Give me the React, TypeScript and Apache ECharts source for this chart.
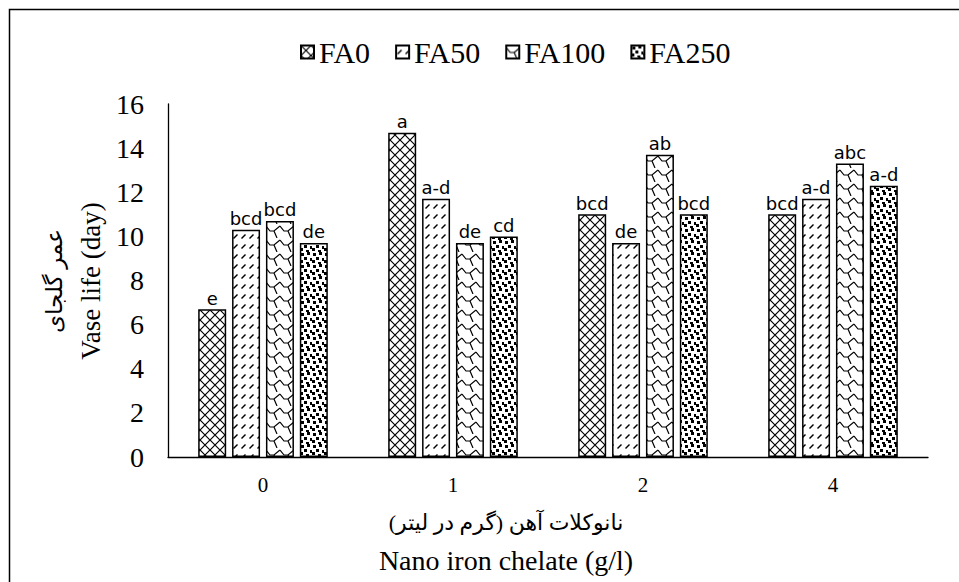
import React, { useEffect, useRef } from "react";
import * as echarts from "echarts";

const categories = ["0", "1", "2", "4"];
const seriesNames = ["FA0", "FA50", "FA100", "FA250"];
const fa0 = [6.7, 14.7, 11.0, 11.0];
const fa50 = [10.3, 11.7, 9.7, 11.7];
const fa100 = [10.7, 9.7, 13.7, 13.3];
const fa250 = [9.7, 10.0, 11.0, 12.3];
const fa0Letters = ["e", "a", "bcd", "bcd"];
const fa50Letters = ["bcd", "a-d", "de", "a-d"];
const fa100Letters = ["bcd", "de", "ab", "abc"];
const fa250Letters = ["de", "cd", "bcd", "a-d"];
const yTicks = { min: 0, max: 16, interval: 2 };
const xTitleFa = "\u200Fنانوکلات آهن (گرم در لیتر)\u200F";
const xTitleEn = "Nano iron chelate (g/l)";
const yTitleFa = "عمر گلجای";
const yTitleEn = "Vase life (day)";

function makeTile(w: number, h: number, draw: (ctx: CanvasRenderingContext2D) => void) {
  const c = document.createElement("canvas");
  c.width = w;
  c.height = h;
  const ctx = c.getContext("2d")!;
  ctx.fillStyle = "#fff";
  ctx.fillRect(0, 0, w, h);
  ctx.strokeStyle = "#000";
  ctx.fillStyle = "#000";
  draw(ctx);
  return c;
}

function patterns() {
  const cross = makeTile(10, 10, (ctx) => {
    ctx.lineWidth = 1.2;
    ctx.beginPath();
    ctx.moveTo(0, 0);
    ctx.lineTo(10, 10);
    ctx.moveTo(10, 0);
    ctx.lineTo(0, 10);
    ctx.stroke();
  });
  const dashed = makeTile(8, 10, (ctx) => {
    ctx.lineWidth = 1.4;
    ctx.beginPath();
    ctx.moveTo(1.5, 8.5);
    ctx.lineTo(5.5, 4.5);
    ctx.stroke();
  });
  const wave = makeTile(14, 14, (ctx) => {
    ctx.lineWidth = 1.2;
    ctx.beginPath();
    ctx.moveTo(0, 2);
    ctx.lineTo(4, 7);
    ctx.lineTo(8, 7);
    ctx.lineTo(14, 2);
    ctx.moveTo(8, 7);
    ctx.lineTo(11, 14);
    ctx.stroke();
  });
  const confetti = makeTile(12, 12, (ctx) => {
    const pts = [
      [1, 1], [7, 0], [4, 5], [10, 6], [0, 8], [6, 10],
    ];
    pts.forEach(([x, y]) => ctx.fillRect(x, y, 3, 3));
  });
  return [cross, dashed, wave, confetti];
}

export default function App() {
  const ref = useRef<HTMLDivElement>(null);
  useEffect(() => {
    if (!ref.current) return;
    const chart = echarts.init(ref.current, undefined, { renderer: "svg" });
    const pats = patterns();
    const values = [fa0, fa50, fa100, fa250];
    const letters = [fa0Letters, fa50Letters, fa100Letters, fa250Letters];
    const serif = '"Liberation Serif", "Times New Roman", "DejaVu Sans", serif';
    const series = seriesNames.map((name, si) => ({
      name,
      type: "bar",
      data: values[si],
      barWidth: 28,
      barGap: "21%",
      itemStyle: {
        color: { image: pats[si], repeat: "repeat" },
        borderColor: "#000",
        borderWidth: 1.5,
      },
      label: {
        show: true,
        position: "top",
        distance: 2,
        formatter: (p: any) => letters[si][p.dataIndex],
        fontFamily: "DejaVu Sans",
        fontSize: 18,
        color: "#000",
      },
    }));
    chart.setOption({
      animation: false,
      backgroundColor: "#fff",
      grid: { left: 168, right: 31, top: 104, bottom: 125, containLabel: false },
      legend: {
        data: seriesNames,
        left: 295,
        top: 32,
        icon: "rect",
        itemWidth: 13,
        itemHeight: 13,
        itemGap: 25,
        textStyle: { fontFamily: serif, fontSize: 30, color: "#000" },
      },
      xAxis: {
        type: "category",
        data: categories,
        axisLine: { show: true, lineStyle: { color: "#000", width: 1.3 } },
        axisTick: { show: false },
        axisLabel: { fontFamily: serif, fontSize: 21, color: "#000", margin: 17 },
        splitLine: { show: false },
      },
      yAxis: {
        type: "value",
        min: yTicks.min,
        max: yTicks.max,
        interval: yTicks.interval,
        axisLine: { show: true, lineStyle: { color: "#000", width: 1.3 } },
        axisTick: { show: false },
        axisLabel: { fontFamily: serif, fontSize: 28, color: "#000", margin: 24 },
        splitLine: { show: false },
      },
      graphic: [
        {
          type: "rect",
          silent: true,
          shape: { x: 9.5, y: 9.5, width: 1000, height: 1000 },
          style: { fill: "none", stroke: "#000", lineWidth: 1.5 },
        },
        {
          type: "text",
          x: 506,
          y: 522,
          style: { text: xTitleFa, font: '22px "Liberation Serif", "DejaVu Sans", serif', fill: "#000", align: "center", verticalAlign: "middle" },
        },
        {
          type: "text",
          x: 506,
          y: 560,
          style: { text: xTitleEn, font: '28px "Liberation Serif", serif', fill: "#000", align: "center", verticalAlign: "middle" },
        },
        {
          type: "text",
          x: 54,
          y: 281,
          rotation: Math.PI / 2,
          style: { text: yTitleFa, font: '23px "Liberation Serif", "DejaVu Sans", serif', fill: "#000", align: "center", verticalAlign: "middle" },
        },
        {
          type: "text",
          x: 91,
          y: 281,
          rotation: Math.PI / 2,
          style: { text: yTitleEn, font: '27px "Liberation Serif", serif', fill: "#000", align: "center", verticalAlign: "middle" },
        },
      ],
      series,
    });
    return () => chart.dispose();
  }, []);
  return (
    <div
      ref={ref}
      style={{ position: "fixed", left: 0, top: 0, width: 959, height: 582 }}
    />
  );
}
